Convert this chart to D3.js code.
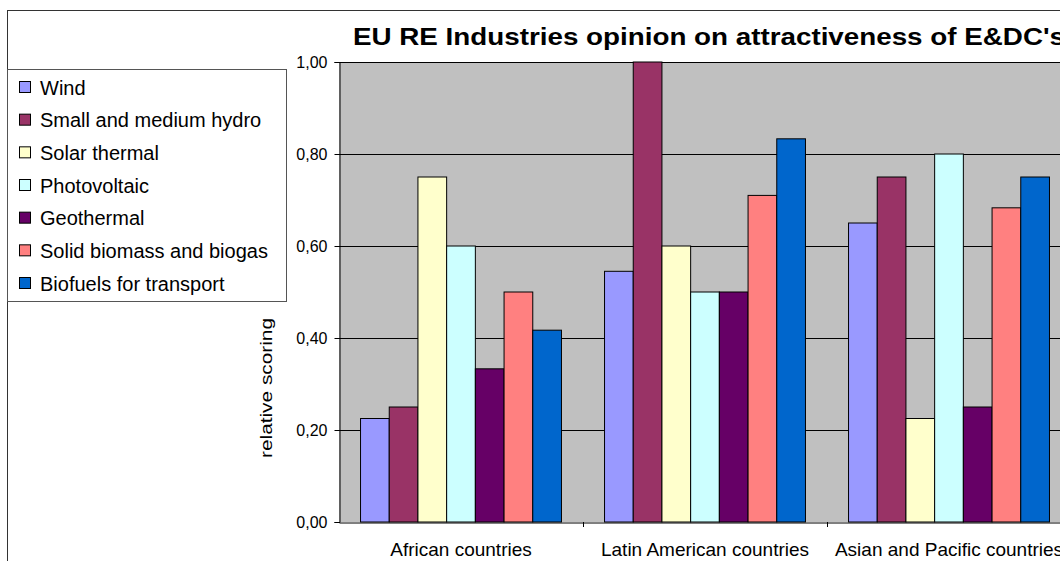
<!DOCTYPE html>
<html>
<head>
<meta charset="utf-8">
<script src="https://cdn.jsdelivr.net/npm/d3@7"></script>
<style>
  html, body { margin: 0; padding: 0; background: #fff; }
  svg { display: block; font-family: "Liberation Sans", Arial, sans-serif; }
</style>
</head>
<body>
<svg id="chart" width="1060" height="561"></svg>
<script>
// ---- data ----
const categories = ["African countries", "Latin American countries", "Asian and Pacific countries"];
const seriesNames = ["Wind", "Small and medium hydro", "Solar thermal", "Photovoltaic", "Geothermal", "Solid biomass and biogas", "Biofuels for transport"];
const wind     = [0.225, 0.545, 0.65];
const hydro    = [0.25, 1.00, 0.75];
const solar    = [0.75, 0.60, 0.225];
const pv       = [0.60, 0.50, 0.80];
const geo      = [0.333, 0.50, 0.25];
const biomass  = [0.50, 0.71, 0.683];
const biofuels = [0.417, 0.833, 0.75];
const yTicks = [0, 0.2, 0.4, 0.6, 0.8, 1.0];
const yTickLabels = ["0,00", "0,20", "0,40", "0,60", "0,80", "1,00"];
const colors = ["#9999FF", "#993366", "#FFFFCC", "#CCFFFF", "#660066", "#FF8080", "#0066CC"];
const titleText = "EU RE Industries opinion on attractiveness of E&DC's";
const yTitle = "relative scoring";

const seriesValues = [wind, hydro, solar, pv, geo, biomass, biofuels];

// ---- layout ----
const svg = d3.select("#chart");
const plot = { left: 339, right: 1071, top: 62, bottom: 522 };

// outer chart border (cropped on right/bottom)
svg.append("rect").attr("x", 7.5).attr("y", 10.5).attr("width", 1200).attr("height", 700)
  .attr("fill", "#fff").attr("stroke", "#333").attr("stroke-width", 1);

const x0 = d3.scaleBand().domain(categories).range([plot.left, plot.right]).paddingInner(0).paddingOuter(0);
const x1 = d3.scaleBand().domain(d3.range(seriesNames.length)).range([0, x0.bandwidth()]).paddingInner(0).paddingOuter(0.75);
const y = d3.scaleLinear().domain([0, 1]).range([plot.bottom, plot.top]);

// plot background
svg.append("rect").attr("x", plot.left).attr("y", plot.top)
  .attr("width", plot.right - plot.left).attr("height", plot.bottom - plot.top)
  .attr("fill", "#C0C0C0");

// gridlines
svg.append("g").selectAll("line").data(yTicks.filter(d => d > 0)).join("line")
  .attr("x1", plot.left).attr("x2", plot.right)
  .attr("y1", d => Math.round(y(d)) + 0.5).attr("y2", d => Math.round(y(d)) + 0.5)
  .attr("stroke", "#000").attr("stroke-width", 1);

// bars
const groups = svg.append("g").selectAll("g").data(categories).join("g")
  .attr("transform", c => `translate(${x0(c)},0)`);
groups.selectAll("rect").data((c, ci) => seriesValues.map((vals, si) => ({ si, v: vals[ci] }))).join("rect")
  .attr("x", d => x1(d.si))
  .attr("y", d => y(d.v))
  .attr("width", x1.bandwidth())
  .attr("height", d => y(0) - y(d.v))
  .attr("fill", d => colors[d.si])
  .attr("stroke", "#000").attr("stroke-width", 1);

// y axis
const yAxis = d3.axisLeft(y).tickValues(yTicks).tickFormat((d, i) => yTickLabels[i]).tickSize(5).tickPadding(7);
const yg = svg.append("g").attr("transform", `translate(${plot.left + 0.5},0)`).call(yAxis);
yg.select(".domain").attr("stroke", "#000");
yg.selectAll(".tick line").attr("stroke", "#000");
yg.selectAll("text").attr("font-size", 16).attr("fill", "#000")
  .attr("font-family", "Liberation Sans, Arial, sans-serif");

// x axis
const xAxis = d3.axisBottom(x0).tickSize(0).tickPadding(0);
const xg = svg.append("g").attr("transform", `translate(0,${plot.bottom + 0.5})`).call(xAxis);
xg.select(".domain").attr("stroke", "#000");
xg.selectAll("text").attr("font-size", 19).attr("fill", "#000").attr("dy", null).attr("y", 33)
  .attr("font-family", "Liberation Sans, Arial, sans-serif");
// category boundary ticks
svg.append("g").selectAll("line").data(categories.slice(1)).join("line")
  .attr("x1", d => Math.round(x0(d)) + 0.5).attr("x2", d => Math.round(x0(d)) + 0.5)
  .attr("y1", plot.bottom).attr("y2", plot.bottom + 5)
  .attr("stroke", "#000");

// title
svg.append("text").attr("x", 353).attr("y", 45)
  .attr("font-size", 23).attr("font-weight", "bold").attr("fill", "#000")
  .attr("textLength", 712).attr("lengthAdjust", "spacingAndGlyphs")
  .text(titleText);

// y axis title
svg.append("text").attr("transform", "translate(272,388) rotate(-90)")
  .attr("text-anchor", "middle").attr("font-size", 17).attr("fill", "#000")
  .attr("textLength", 140).attr("lengthAdjust", "spacingAndGlyphs")
  .text(yTitle);

// legend
const legend = svg.append("g");
legend.append("rect").attr("x", 7.5).attr("y", 69.5).attr("width", 279).attr("height", 232)
  .attr("fill", "#fff").attr("stroke", "#555").attr("stroke-width", 1);
const rowY = d3.scaleLinear().domain([0, seriesNames.length - 1]).range([87.5, 283.5]);
const items = legend.selectAll("g.item").data(seriesNames).join("g").attr("class", "item")
  .attr("transform", (d, i) => `translate(0,${rowY(i)})`);
items.append("rect").attr("x", 19.5).attr("y", -6).attr("width", 11).attr("height", 11)
  .attr("fill", (d, i) => colors[i]).attr("stroke", "#000").attr("stroke-width", 1);
items.append("text").attr("x", 40).attr("y", 7).attr("font-size", 20).attr("fill", "#000")
  .text(d => d);
</script>
</body>
</html>
